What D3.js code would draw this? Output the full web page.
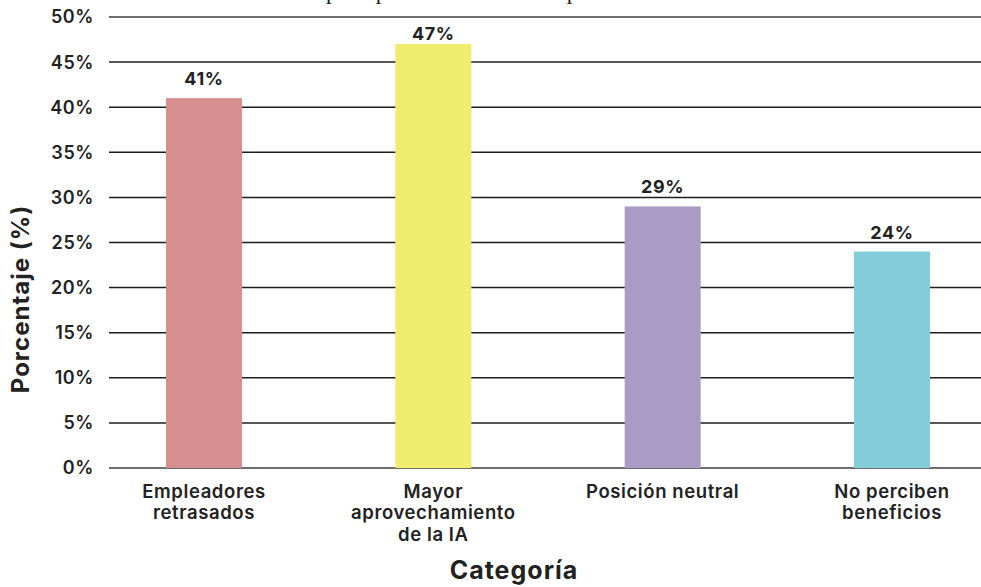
<!DOCTYPE html>
<html lang="es">
<head>
<meta charset="utf-8">
<title>Percepción de la IA</title>
<script src="https://cdn.jsdelivr.net/npm/d3@7"></script>
<style>
  html, body { margin: 0; padding: 0; background: #fff; }
  svg { display: block; }
</style>
</head>
<body>
<svg id="chart" width="981" height="587"></svg>
<script>
// Categories (multi-line labels), values in percent and bar colours
const categories = [
  ["Empleadores", "retrasados"],
  ["Mayor", "aprovechamiento", "de la IA"],
  ["Posición neutral"],
  ["No perciben", "beneficios"]
];
const values = [41, 47, 29, 24];
const barColors = ["#d48f8e", "#f0ec6e", "#a99bc4", "#82cdd9"];
const yTicks = [0, 5, 10, 15, 20, 25, 30, 35, 40, 45, 50];
const titleText = "La percepción de IA en el empleo";
const xTitle = "Categoría";
const yTitle = "Porcentaje (%)";

const sans = "Inter, 'Noto Sans', sans-serif";
const ink = "#222";

const svg = d3.select("#chart");

const plotLeft = 109, plotRight = 981;
const y = d3.scaleLinear().domain([0, 50]).range([468, 17]);
const x = d3.scalePoint().domain(d3.range(values.length)).range([204, 892]);
const barW = 76;

// Title, set high so that only its descenders reach into the page
svg.append("text")
  .attr("x", 296).attr("y", -0.8)
  .attr("font-family", "'Liberation Serif', 'DejaVu Serif', serif")
  .attr("font-size", 23)
  .attr("fill", ink)
  .text(titleText);

// Horizontal grid lines
svg.append("g").selectAll("line")
  .data(yTicks)
  .join("line")
  .attr("x1", plotLeft).attr("x2", plotRight)
  .attr("y1", d => y(d)).attr("y2", d => y(d))
  .attr("stroke", d => (d === 0 || d === 50) ? "#6e6e6e" : "#1e1e1e")
  .attr("stroke-width", d => (d === 0 || d === 50) ? 2 : 1.5);

// Y tick labels
svg.append("g").selectAll("text")
  .data(yTicks)
  .join("text")
  .attr("x", 94).attr("y", d => y(d))
  .attr("dy", "0.36em")
  .attr("text-anchor", "end")
  .attr("font-family", sans)
  .attr("font-weight", 600)
  .attr("font-size", 18)
  .attr("letter-spacing", 0.6)
  .attr("fill", ink)
  .text(d => d + "%");

// Bars
svg.append("g").selectAll("rect")
  .data(values)
  .join("rect")
  .attr("x", (d, i) => x(i) - barW / 2)
  .attr("width", barW)
  .attr("y", d => y(d))
  .attr("height", d => y(0) - y(d))
  .attr("fill", (d, i) => barColors[i]);

// Value labels above bars, kept clear of the top frame line
svg.append("g").selectAll("text")
  .data(values)
  .join("text")
  .attr("x", (d, i) => x(i))
  .attr("y", d => Math.max(y(d) - 13, y(50) + 23))
  .attr("text-anchor", "middle")
  .attr("font-family", sans)
  .attr("font-weight", 700)
  .attr("font-size", 18)
  .attr("letter-spacing", 0.6)
  .attr("fill", ink)
  .text(d => d + "%");

// Category labels
const cat = svg.append("g").selectAll("text")
  .data(categories)
  .join("text")
  .attr("x", (d, i) => x(i))
  .attr("y", 498)
  .attr("text-anchor", "middle")
  .attr("font-family", sans)
  .attr("font-weight", 600)
  .attr("font-size", 18.5)
  .attr("letter-spacing", 0.6)
  .attr("fill", ink);
cat.each(function(lines, i) {
  d3.select(this).selectAll("tspan")
    .data(lines)
    .join("tspan")
    .attr("x", x(i))
    .attr("dy", (l, j) => j === 0 ? 0 : 21.3)
    .text(l => l);
});

// Axis titles
svg.append("text")
  .attr("x", 514).attr("y", 579)
  .attr("text-anchor", "middle")
  .attr("font-family", sans)
  .attr("font-weight", 700)
  .attr("font-size", 25)
  .attr("letter-spacing", 1)
  .attr("fill", ink)
  .text(xTitle);

svg.append("text")
  .attr("transform", "translate(29,299) rotate(-90)")
  .attr("text-anchor", "middle")
  .attr("font-family", sans)
  .attr("font-weight", 700)
  .attr("font-size", 24)
  .attr("letter-spacing", 1)
  .attr("fill", ink)
  .text(yTitle);
</script>
</body>
</html>
